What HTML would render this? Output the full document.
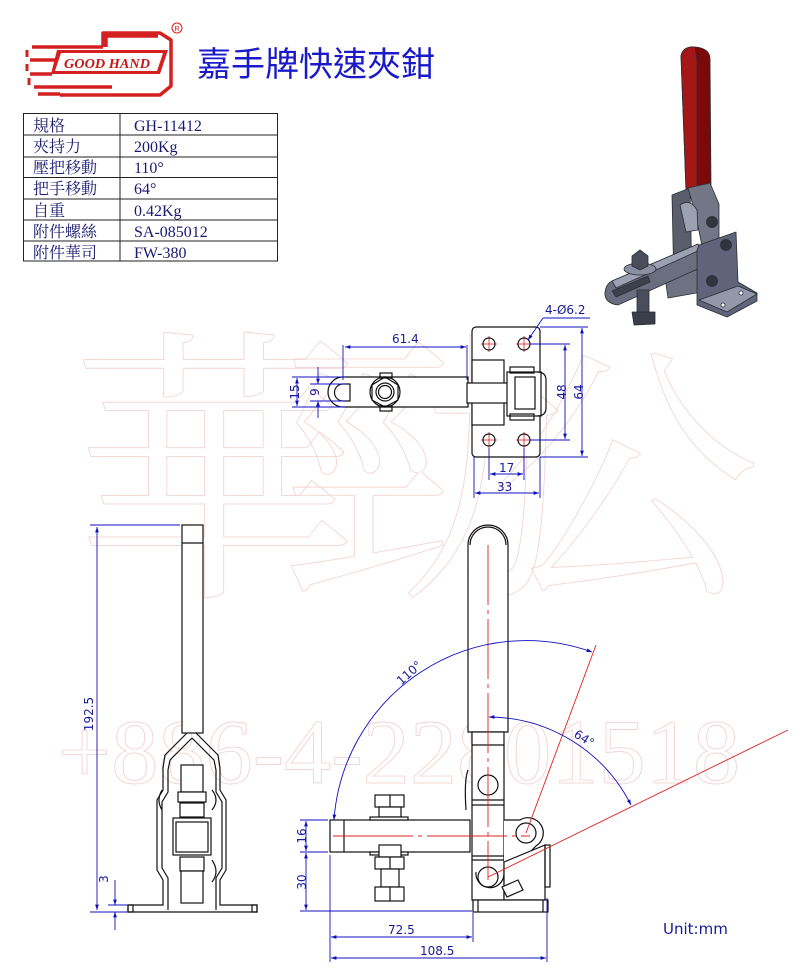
<!DOCTYPE html>
<html><head><meta charset="utf-8"><style>
html,body{margin:0;padding:0;background:#fff;}
svg{display:block;}
.l{stroke:#111;stroke-width:1.2;fill:none;}
.lw{stroke:#111;stroke-width:1.2;fill:#fff;}
.d{stroke:#1010c0;stroke-width:0.9;fill:none;}
.r{stroke:#e02020;stroke-width:0.9;fill:none;}
.dt{font-family:"DejaVu Sans","Liberation Sans",sans-serif;font-size:12px;fill:#1a1a9a;}
.tb{font-family:"Liberation Serif","Noto Serif CJK SC",serif;font-size:16px;fill:#1a1a70;}
.wm{font-family:"Liberation Serif","Noto Serif CJK SC",serif;fill:none;stroke:#f4d4d4;stroke-width:0.9;}
</style></head><body>
<svg width="800" height="973" viewBox="0 0 800 973" xmlns="http://www.w3.org/2000/svg">
<defs>
<marker id="a" viewBox="0 0 10 10" refX="10" refY="5" markerWidth="8" markerHeight="6" orient="auto-start-reverse"><path d="M0,1.5 L10,5 L0,8.5z" fill="#1010c0"/></marker>
</defs>
<!-- watermark -->
<text class="wm" x="70" y="575" font-size="290">華</text>
<text class="wm" x="280" y="575" font-size="290">勁</text>
<text class="wm" x="490" y="575" font-size="270">公</text>
<text class="wm" x="58" y="783" font-size="92" textLength="682" lengthAdjust="spacingAndGlyphs">+886-4-22801518</text>

<!-- logo -->
<g fill="none" stroke="#d42020" stroke-width="3.5" stroke-linejoin="round">
<path d="M103,47 L103,33 L160,33 L171,40 L171,86 L160,95 L60,95"/>
<path d="M106,47 L106,36 L158,36"/>
<path d="M32,47 L103,47"/>
<path d="M30,60 L55,60"/>
<path d="M30,74 L52,74"/>
<path d="M34,87 L112,87"/>
<path d="M38,94 L60,94"/>
<path d="M27,50 L27,57 M27,64 L27,71 M29,78 L29,85" stroke-width="3"/>
</g>
<path d="M57,50 L168,50 L160,74 L51,74z" fill="#d42020"/>
<path d="M61,53 L163,53 L157,71 L55,71z" fill="#fff"/>
<text x="64" y="68" font-family="Liberation Serif,serif" font-style="italic" font-weight="bold" font-size="14" fill="#c41818" textLength="86" lengthAdjust="spacingAndGlyphs">GOOD HAND</text>
<circle cx="177" cy="28" r="5" fill="none" stroke="#d42020" stroke-width="1"/>
<text x="174.5" y="31" font-size="7" fill="#d42020" font-family="Liberation Sans,sans-serif">R</text>
<text x="197" y="76" font-family="Liberation Sans,'Noto Sans CJK TC',sans-serif" font-size="34" fill="#1a1ac8">嘉手牌快速夾鉗</text>

<!-- table -->
<g stroke="#222" stroke-width="1" fill="none">
<rect x="23.5" y="113.5" width="254" height="147.5"/>
<line x1="120" y1="113" x2="120" y2="261"/>
<line x1="23" y1="135" x2="278" y2="135"/>
<line x1="23" y1="157" x2="278" y2="157"/>
<line x1="23" y1="177.5" x2="278" y2="177.5"/>
<line x1="23" y1="199" x2="278" y2="199"/>
<line x1="23" y1="220" x2="278" y2="220"/>
<line x1="23" y1="241" x2="278" y2="241"/>
</g>
<g class="tb">
<text x="33" y="131">規格</text><text x="134" y="131">GH-11412</text>
<text x="33" y="152">夾持力</text><text x="134" y="152">200Kg</text>
<text x="33" y="173">壓把移動</text><text x="134" y="173">110°</text>
<text x="33" y="194">把手移動</text><text x="134" y="194">64°</text>
<text x="33" y="216">自重</text><text x="134" y="216">0.42Kg</text>
<text x="33" y="237">附件螺絲</text><text x="134" y="237">SA-085012</text>
<text x="33" y="258">附件華司</text><text x="134" y="258">FW-380</text>
</g>

<!-- 3D image -->
<g stroke="#2a2d36" stroke-width="0.8" stroke-linejoin="round">
<path d="M681,56 Q683,46 695,47 Q709,48 710,58 L711,188 L686,190z" fill="#7a0a0a"/>
<path d="M681,56 Q683,46 695,47 L697,60 L697,190 L686,190z" fill="#a51616"/>
<!-- rear plate -->
<path d="M672,195 L690,188 L692,282 L674,288z" fill="#5a5e6c"/>
<!-- housing under arm -->
<path d="M665,277 L700,266 L702,292 L668,298z" fill="#6e7384"/>
<!-- arm -->
<path d="M612,281 L698,244 L702,267 L618,305 Q604,303 605,292 Q606,284 612,281z" fill="#6a6f80"/>
<path d="M612,281 L698,244 L700,250 L616,288z" fill="#9ca1b2"/>
<path d="M612,291 L648,276 L650,282 L616,297z" fill="#3c404c"/>
<!-- bolt -->
<rect x="637" y="290" width="12" height="22" fill="#4a4e5a"/>
<path d="M632,312 L655,312 L655,324 L634,325z" fill="#3a3e48"/>
<ellipse cx="640" cy="269" rx="16" ry="6" fill="#8a90a2"/>
<path d="M632,256 L640,250 L648,256 L648,266 L640,270 L632,266z" fill="#4a4e5a"/>
<!-- upper link -->
<path d="M688,188 L710,183 L719,204 L719,240 L702,246 L696,216z" fill="#727788"/>
<path d="M680,205 Q690,198 697,210 L698,230 L686,232z" fill="#9ca1b2"/>
<!-- front body -->
<path d="M699,245 L736,232 L738,282 L757,293 L757,301 L727,317 L697,305 L697,250z" fill="#60647a"/>
<path d="M699,300 L738,286 L757,294 L727,312z" fill="#9297aa"/>
<circle cx="712" cy="222" r="5.5" fill="#30343e"/>
<circle cx="726" cy="245" r="5.5" fill="#30343e"/>
<circle cx="712" cy="281" r="5.5" fill="#30343e"/>
<circle cx="741" cy="293" r="2" fill="#fff"/>
<circle cx="723" cy="305" r="2" fill="#fff"/>
</g>

<!-- Top view -->
<g>
<rect x="472" y="327" width="68" height="130" rx="4" class="lw"/>
<g stroke="#e02020" stroke-width="0.8">
<line x1="489" y1="336" x2="489" y2="352"/><line x1="481" y1="344" x2="497" y2="344"/>
<line x1="524" y1="336" x2="524" y2="352"/><line x1="516" y1="344" x2="532" y2="344"/>
<line x1="489" y1="432" x2="489" y2="448"/><line x1="481" y1="440" x2="497" y2="440"/>
<line x1="524" y1="432" x2="524" y2="448"/><line x1="516" y1="440" x2="532" y2="440"/>
</g>
<g class="l"><circle cx="489" cy="344" r="6"/><circle cx="524" cy="344" r="6"/><circle cx="489" cy="440" r="6"/><circle cx="524" cy="440" r="6"/></g>
<path d="M343,377 L468,377 L468,407 L343,407 A15,15 0 0 1 343,377z" class="lw"/>
<path d="M343,384 L350,384 L350,401 L343,401 A8.5,8.5 0 0 1 343,384z" class="l"/>
<circle cx="385" cy="392" r="15" class="lw"/>
<polygon points="385,377 398,385 398,400 385,407 372,400 372,385" class="l"/>
<circle cx="385" cy="392" r="9" class="l"/><circle cx="385" cy="392" r="6.5" class="l"/>
<rect x="380" y="373" width="12" height="5" class="l"/><rect x="380" y="406" width="12" height="5" class="l"/>
<rect x="472" y="360" width="32" height="65" class="lw"/>
<rect x="467" y="383" width="42" height="20" class="lw"/>
<rect x="507" y="372" width="34" height="44" class="lw"/>
<rect x="515" y="377" width="20" height="32" class="l"/>
<path d="M537,372 Q546,372 546,380 L546,408 Q546,416 537,416" class="l"/>
<rect x="510" y="367" width="24" height="6" class="l"/><rect x="510" y="414" width="24" height="6" class="l"/>
</g>
<!-- top dims -->
<g class="d">
<line x1="343" y1="345" x2="343" y2="380"/><line x1="467" y1="345" x2="467" y2="380"/>
<line x1="345" y1="347" x2="466" y2="347" marker-start="url(#a)" marker-end="url(#a)"/>
<line x1="292" y1="377" x2="345" y2="377"/><line x1="292" y1="407" x2="345" y2="407"/>
<line x1="297" y1="378" x2="297" y2="406" marker-start="url(#a)" marker-end="url(#a)"/>
<line x1="318" y1="367" x2="318" y2="384" marker-end="url(#a)"/><line x1="318" y1="418" x2="318" y2="401" marker-end="url(#a)"/>
<line x1="310" y1="384" x2="345" y2="384"/><line x1="310" y1="401" x2="345" y2="401"/>
<line x1="530" y1="344" x2="570" y2="344"/><line x1="530" y1="440" x2="570" y2="440"/>
<line x1="565" y1="345" x2="565" y2="439" marker-start="url(#a)" marker-end="url(#a)"/>
<line x1="540" y1="327" x2="588" y2="327"/><line x1="540" y1="457" x2="588" y2="457"/>
<line x1="582" y1="328" x2="582" y2="456" marker-start="url(#a)" marker-end="url(#a)"/>
<line x1="489" y1="448" x2="489" y2="480"/><line x1="524" y1="448" x2="524" y2="480"/>
<line x1="490" y1="474" x2="523" y2="474" marker-start="url(#a)" marker-end="url(#a)"/>
<line x1="474" y1="457" x2="474" y2="498"/><line x1="540" y1="457" x2="540" y2="498"/>
<line x1="475" y1="493" x2="539" y2="493" marker-start="url(#a)" marker-end="url(#a)"/>
<line x1="590" y1="318" x2="543" y2="318"/><line x1="543" y1="318" x2="528" y2="340" marker-end="url(#a)"/>
</g>
<g class="dt">
<text x="392" y="343">61.4</text>
<text x="293" y="398" transform="rotate(-90 293 392)" text-anchor="middle">15</text>
<text x="314" y="397" transform="rotate(-90 314 392)" text-anchor="middle">9</text>
<text x="561" y="397" transform="rotate(-90 561 392)" text-anchor="middle">48</text>
<text x="578" y="397" transform="rotate(-90 578 392)" text-anchor="middle">64</text>
<text x="499" y="472">17</text>
<text x="497" y="491">33</text>
<text x="545" y="314">4-Ø6.2</text>
</g>

<!-- Side view -->
<g>
<rect x="182" y="525" width="21" height="208" class="lw"/>
<line x1="182" y1="543" x2="203" y2="543" class="l"/>
<path d="M187,733 L165,755 L163,768 L163,790 L157,800 L157,870 L163,880 L163,905 L128,905 L128,912 L257,912 L257,905 L220,905 L220,880 L226,870 L226,800 L220,790 L220,768 L218,755 L196,733" class="l"/>
<path d="M192,738 L170,760 L168,770 L168,792 L162,802 L162,868 L168,878 L168,910 M192,738 L214,760 L216,770 L216,792 L222,802 L222,868 L216,878 L216,910" class="l"/>
<rect x="128" y="905" width="5" height="7" class="l"/><rect x="252" y="905" width="5" height="7" class="l"/>
<rect x="181" y="765" width="22" height="27" class="lw"/>
<rect x="178" y="792" width="28" height="10" class="lw"/>
<rect x="180" y="803" width="24" height="14" class="lw"/>
<rect x="173" y="818" width="38" height="37" class="lw"/>
<rect x="176" y="822" width="32" height="30" class="l"/>
<rect x="180" y="857" width="24" height="14" class="lw"/>
<rect x="181" y="871" width="22" height="32" class="lw"/>
<path d="M212,790 Q220,800 212,810 M212,860 Q220,872 212,882 M162,790 Q156,800 162,810" class="l"/>
</g>
<g class="d">
<line x1="90" y1="525" x2="180" y2="525"/>
<line x1="97" y1="527" x2="97" y2="910" marker-start="url(#a)" marker-end="url(#a)"/>
<line x1="90" y1="912" x2="128" y2="912"/><line x1="108" y1="905" x2="128" y2="905"/>
<line x1="115" y1="880" x2="115" y2="905" marker-end="url(#a)"/><line x1="115" y1="930" x2="115" y2="912" marker-end="url(#a)"/>
</g>
<text class="dt" x="97" y="718" transform="rotate(-90 93 718)" text-anchor="middle">192.5</text>
<text class="dt" x="112" y="883" transform="rotate(-90 108 883)" text-anchor="middle">3</text>

<!-- Front view -->
<g>
<path d="M468,545 A20,20 0 0 1 508,545 L508,732 L468,732z" class="lw"/>
<path d="M470,545 A18,18 0 0 1 506,545" class="l"/>
<rect x="472" y="732" width="32" height="168" class="lw"/>
<line x1="472" y1="745" x2="504" y2="745" class="l"/>
<line x1="472" y1="800" x2="504" y2="800" class="l"/>
<line x1="472" y1="805" x2="504" y2="805" class="l"/>
<line x1="472" y1="856" x2="504" y2="856" class="l"/>
<line x1="472" y1="860" x2="504" y2="860" class="l"/>
<circle cx="488" cy="785" r="10" class="l"/>
<path d="M468,770 Q464,780 466,810" class="l"/>
<rect x="330" y="820" width="140" height="32" class="lw"/>
<line x1="344" y1="820" x2="344" y2="852" class="l"/>
<path d="M504,820 L520,820 A14,14 0 1 1 536,846 L520,862 L504,875" class="lw"/>
<circle cx="526" cy="833" r="10" class="l"/>
<path d="M504,862 L545,845 L545,900 L504,900z" class="lw"/>
<rect x="545" y="845" width="5" height="42" class="l"/>
<path d="M476,872 A14,14 0 1 0 504,875" class="l"/>
<circle cx="488" cy="877" r="10" class="lw"/>
<path d="M502,887 L518,880 L523,890 L507,897z" class="lw"/>
<rect x="473" y="900" width="75" height="12" class="lw"/>
<line x1="478" y1="900" x2="478" y2="912" class="l"/>
<line x1="543" y1="900" x2="543" y2="912" class="l"/>
<!-- bolt -->
<rect x="375" y="795" width="29" height="12" class="lw"/>
<rect x="379" y="807" width="22" height="10" class="lw"/>
<rect x="370" y="817" width="38" height="3" class="lw"/>
<rect x="370" y="852" width="38" height="3" class="lw"/>
<rect x="379" y="845" width="22" height="12" class="lw"/>
<rect x="375" y="857" width="29" height="12" class="lw"/>
<rect x="381" y="869" width="18" height="18" class="lw"/>
<rect x="375" y="887" width="29" height="14" class="lw"/>
<line x1="390" y1="795" x2="390" y2="807" class="l"/>
<line x1="390" y1="857" x2="390" y2="869" class="l"/>
<line x1="390" y1="887" x2="390" y2="901" class="l"/>
</g>
<!-- red centerlines -->
<g class="r">
<line x1="488" y1="545" x2="488" y2="880" stroke-dasharray="60,5,4,5"/>
<line x1="333" y1="836" x2="530" y2="836" stroke-dasharray="80,5,4,5"/>
<line x1="526" y1="833" x2="596" y2="645"/>
<line x1="488" y1="877" x2="788" y2="730"/>
</g>
<!-- angle arcs -->
<g class="d">
<path d="M334,820 A193,193 0 0 1 592,652" marker-start="url(#a)" marker-end="url(#a)"/>
<path d="M489,717 A160,160 0 0 1 631,805" marker-start="url(#a)" marker-end="url(#a)"/>
</g>
<text class="dt" x="412" y="676" transform="rotate(-42 412 676)" text-anchor="middle">110°</text>
<text class="dt" x="582" y="742" transform="rotate(32 582 742)" text-anchor="middle">64°</text>
<!-- front dims -->
<g class="d">
<line x1="300" y1="820" x2="328" y2="820"/><line x1="300" y1="852" x2="328" y2="852"/>
<line x1="300" y1="911" x2="472" y2="911"/>
<line x1="306" y1="821" x2="306" y2="851" marker-start="url(#a)" marker-end="url(#a)"/>
<line x1="306" y1="853" x2="306" y2="910" marker-start="url(#a)" marker-end="url(#a)"/>
<line x1="330" y1="855" x2="330" y2="962"/>
<line x1="473" y1="913" x2="473" y2="942"/>
<line x1="547" y1="898" x2="547" y2="962"/>
<line x1="331" y1="937" x2="472" y2="937" marker-start="url(#a)" marker-end="url(#a)"/>
<line x1="331" y1="958" x2="546" y2="958" marker-start="url(#a)" marker-end="url(#a)"/>
</g>
<g class="dt">
<text x="302" y="840" transform="rotate(-90 302 836)" text-anchor="middle">16</text>
<text x="302" y="886" transform="rotate(-90 302 882)" text-anchor="middle">30</text>
<text x="388" y="934">72.5</text>
<text x="420" y="955">108.5</text>
<text x="663" y="934" font-size="15">Unit:mm</text>
</g>
</svg>
</body></html>
